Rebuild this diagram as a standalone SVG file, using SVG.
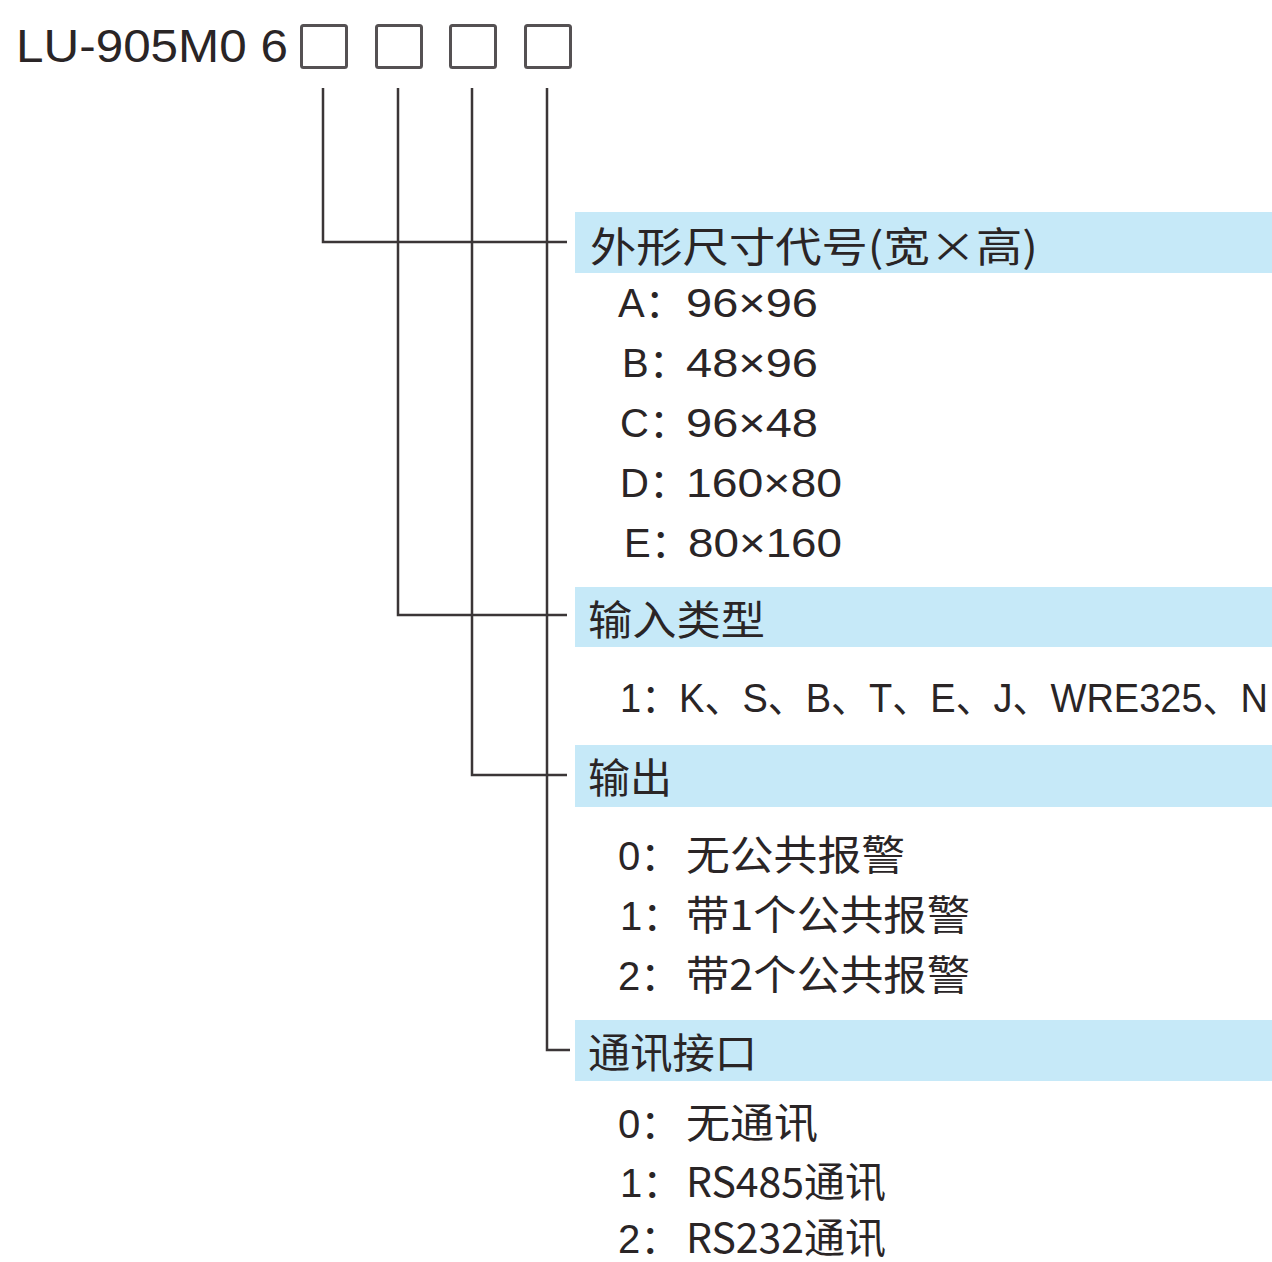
<svg xmlns="http://www.w3.org/2000/svg" width="1272" height="1262" viewBox="0 0 1272 1262">
<style>
.t{font-family:"Liberation Sans","Noto Sans CJK SC",sans-serif;fill:#2a2526}
.h{font-family:"Noto Sans CJK SC","Liberation Sans",sans-serif;font-size:41px;fill:#2a2526}
.i{font-size:40px}
.c{font-family:"Noto Sans CJK SC",sans-serif}
.band{fill:#c6e9f8}
.box{fill:none;stroke:#555153;stroke-width:3}
.ln{fill:none;stroke:#3b3637;stroke-width:2.5}
</style>
<rect width="1272" height="1262" fill="#ffffff"/>
<g id="title">
<text class="t" x="16" y="62" font-size="46" textLength="272" lengthAdjust="spacingAndGlyphs">LU-905M0 6</text>
<rect class="box" x="301.5" y="25.5" width="45" height="42" rx="2"/>
<rect class="box" x="376.5" y="25.5" width="45" height="42" rx="2"/>
<rect class="box" x="450.5" y="25.5" width="45" height="42" rx="2"/>
<rect class="box" x="525.5" y="25.5" width="45" height="42" rx="2"/>
</g>
<g id="connectors">
<path class="ln" d="M323 88V242H567"/>
<path class="ln" d="M398 88V615H567"/>
<path class="ln" d="M472 88V775H567"/>
<path class="ln" d="M547 88V1050H570"/>
</g>
<g id="size">
<rect class="band" x="575" y="212" width="697" height="61"/>
<text class="h" x="590" y="262" textLength="448" lengthAdjust="spacingAndGlyphs">外形尺寸代号(宽×高)</text>
<text class="t i" x="618" y="317">A<tspan class="c">：</tspan></text>
<text class="t i" x="686" y="317" textLength="132" lengthAdjust="spacingAndGlyphs">96×96</text>
<text class="t i" x="622" y="377">B<tspan class="c">：</tspan></text>
<text class="t i" x="686" y="377" textLength="132" lengthAdjust="spacingAndGlyphs">48×96</text>
<text class="t i" x="620" y="437">C<tspan class="c">：</tspan></text>
<text class="t i" x="686" y="437" textLength="132" lengthAdjust="spacingAndGlyphs">96×48</text>
<text class="t i" x="620" y="497">D<tspan class="c">：</tspan></text>
<text class="t i" x="686" y="497" textLength="156" lengthAdjust="spacingAndGlyphs">160×80</text>
<text class="t i" x="624" y="557">E<tspan class="c">：</tspan></text>
<text class="t i" x="688" y="557" textLength="154" lengthAdjust="spacingAndGlyphs">80×160</text>
</g>
<g id="input">
<rect class="band" x="575" y="587" width="697" height="60"/>
<text class="h" x="588" y="635" textLength="177" lengthAdjust="spacingAndGlyphs">输入类型</text>
<text class="t i" x="620" y="712" textLength="648" lengthAdjust="spacingAndGlyphs">1<tspan class="c">：</tspan>K<tspan class="c">、</tspan>S<tspan class="c">、</tspan>B<tspan class="c">、</tspan>T<tspan class="c">、</tspan>E<tspan class="c">、</tspan>J<tspan class="c">、</tspan>WRE325<tspan class="c">、</tspan>N</text>
</g>
<g id="output">
<rect class="band" x="575" y="745" width="697" height="62"/>
<text class="h" x="588" y="793" textLength="84" lengthAdjust="spacingAndGlyphs">输出</text>
<text class="t i" x="618" y="870">0<tspan class="c">：</tspan></text>
<text class="h" x="686" y="870" textLength="219" lengthAdjust="spacingAndGlyphs">无公共报警</text>
<text class="t i" x="620" y="930">1<tspan class="c">：</tspan></text>
<text class="h" x="686" y="930" textLength="284" lengthAdjust="spacingAndGlyphs">带1个公共报警</text>
<text class="t i" x="618" y="990">2<tspan class="c">：</tspan></text>
<text class="h" x="686" y="990" textLength="284" lengthAdjust="spacingAndGlyphs">带2个公共报警</text>
</g>
<g id="comm">
<rect class="band" x="575" y="1020" width="697" height="61"/>
<text class="h" x="588" y="1068" textLength="169" lengthAdjust="spacingAndGlyphs">通讯接口</text>
<text class="t i" x="618" y="1138">0<tspan class="c">：</tspan></text>
<text class="h" x="686" y="1138" textLength="132" lengthAdjust="spacingAndGlyphs">无通讯</text>
<text class="t i" x="620" y="1197">1<tspan class="c">：</tspan></text>
<text class="h" x="686" y="1197" textLength="200" lengthAdjust="spacingAndGlyphs">RS485通讯</text>
<text class="t i" x="618" y="1253">2<tspan class="c">：</tspan></text>
<text class="h" x="686" y="1253" textLength="200" lengthAdjust="spacingAndGlyphs">RS232通讯</text>
</g>
</svg>
